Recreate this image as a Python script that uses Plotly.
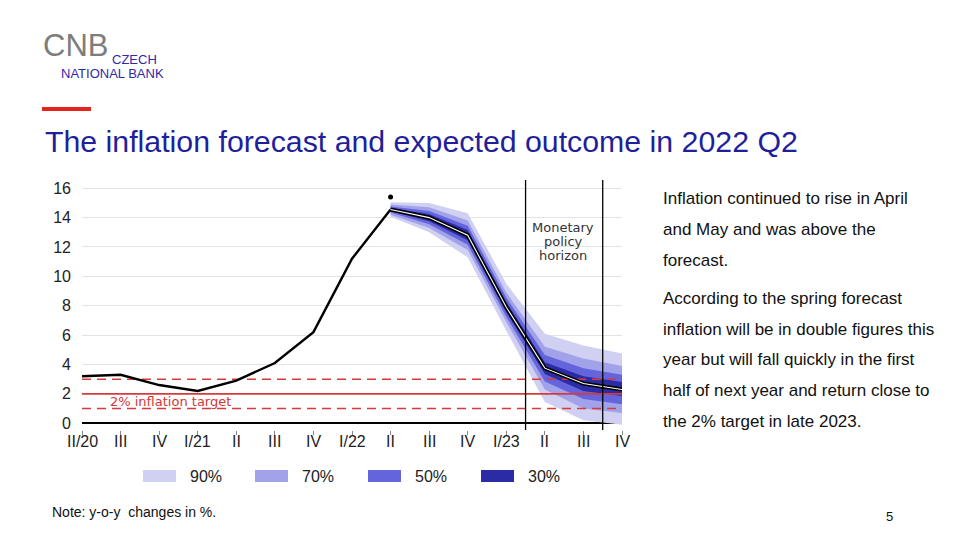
import plotly.graph_objects as go

# ---------------- data ----------------
quarters = ["II/20", "III", "IV", "I/21", "II", "III", "IV", "I/22",
            "II", "III", "IV", "I/23", "II", "III", "IV"]
hist_idx = [0, 1, 2, 3, 4, 5, 6, 7, 8]
hist_vals = [3.2, 3.3, 2.6, 2.2, 2.9, 4.1, 6.2, 11.2, 14.55]

fc_idx = [8, 9, 10, 11, 12, 13, 14]
fc_vals = [14.55, 14.0, 12.8, 7.9, 3.75, 2.7, 2.3]

band90_up = [15.05, 15.0, 14.3, 9.5, 6.1, 5.3, 4.75]
band90_lo = [14.05, 13.0, 11.3, 6.3, 1.45, 0.2, -0.1]
band70_up = [14.9, 14.7, 13.8, 8.9, 5.2, 4.4, 3.9]
band70_lo = [14.2, 13.3, 11.8, 6.9, 2.3, 1.0, 0.7]
band50_up = [14.75, 14.45, 13.45, 8.55, 4.65, 3.75, 3.3]
band50_lo = [14.35, 13.55, 12.15, 7.25, 2.85, 1.65, 1.3]
band30_up = [14.65, 14.25, 13.15, 8.25, 4.15, 3.2, 2.8]
band30_lo = [14.45, 13.75, 12.45, 7.55, 3.35, 2.2, 1.85]

outcome_idx = [8]
outcome_val = [15.4]

target = 2.0
target_band = [1.0, 3.0]
horizon_lines = [11.5, 13.5]

band_names = ["90%", "70%", "50%", "30%"]
band_colors = ["#d0d0f2", "#a2a2ea", "#6464dc", "#2b2ba6"]
bands = [(band90_up, band90_lo), (band70_up, band70_lo),
         (band50_up, band50_lo), (band30_up, band30_lo)]

y_ticks = [0, 2, 4, 6, 8, 10, 12, 14, 16]

text_lines = [
    "Inflation continued to rise in April",
    "and May and was above the",
    "forecast.",
    "According to the spring forecast",
    "inflation will be in double figures this",
    "year but will fall quickly in the first",
    "half of next year and return close to",
    "the 2% target in late 2023.",
]
text_line_y = [198, 229, 260, 298, 329, 359, 390, 421]

# ---------------- layout geometry (screen pixels) ----------------
OFF = 8                      # page body margin
W, H = 960 - OFF, 537 - OFF  # figure size
L, R, T, B = 82, 622, 180, 430   # plot area on screen


def px(x):
    return (x - L) / (R - L)


def py(y):
    return (B - y) / (B - T)


ARIAL = "Liberation Sans, Arial, sans-serif"
DEJAVU = "DejaVu Sans, sans-serif"

fig = go.Figure()

# fan bands
for (up, lo), col, name in zip(bands, band_colors, band_names):
    fig.add_trace(go.Scatter(
        x=fc_idx + fc_idx[::-1], y=up + lo[::-1], fill="toself",
        fillcolor=col, line=dict(width=0), mode="lines", name=name,
        hoverinfo="skip", showlegend=False))

# target lines
red = "#d83a3a"
fig.add_trace(go.Scatter(x=[0, 14], y=[target, target], mode="lines",
                         line=dict(color=red, width=1.6), showlegend=False))
for v in target_band:
    fig.add_trace(go.Scatter(x=[0, 14], y=[v, v], mode="lines",
                             line=dict(color=red, width=1.4, dash="9px,6px"),
                             showlegend=False))

# history line
fig.add_trace(go.Scatter(x=hist_idx, y=hist_vals, mode="lines",
                         line=dict(color="black", width=2.4), showlegend=False))
# forecast line (black with white core)
fig.add_trace(go.Scatter(x=fc_idx, y=fc_vals, mode="lines",
                         line=dict(color="black", width=4.2), showlegend=False))
fig.add_trace(go.Scatter(x=fc_idx, y=fc_vals, mode="lines",
                         line=dict(color="white", width=1.1), showlegend=False))
# actual outcome
fig.add_trace(go.Scatter(x=outcome_idx, y=outcome_val, mode="markers",
                         marker=dict(color="black", size=5), showlegend=False))

shapes = []
for xv in horizon_lines:
    shapes.append(dict(type="line", xref="x", yref="paper", x0=xv, x1=xv,
                       y0=0, y1=1, line=dict(color="black", width=1.3),
                       layer="above"))
# red bar under logo
shapes.append(dict(type="rect", xref="paper", yref="paper",
                   x0=px(42), x1=px(91), y0=py(111), y1=py(107),
                   fillcolor="#e2261f", line=dict(width=0)))
# legend boxes
leg_x = [143, 255, 368, 481]
for lx, col in zip(leg_x, band_colors):
    shapes.append(dict(type="rect", xref="paper", yref="paper",
                       x0=px(lx), x1=px(lx + 33), y0=py(482), y1=py(470),
                       fillcolor=col, line=dict(width=0)))

ann = []
# x tick labels
for i, q in enumerate(quarters):
    ann.append(dict(x=i, y=py(441), xref="x", yref="paper", text=q,
                    showarrow=False, xanchor="center", yanchor="middle",
                    font=dict(family=ARIAL, size=16, color="#222222")))
ann.append(dict(x=0.68, y=1.5, xref="x", yref="y", text="2% inflation target",
                showarrow=False, xanchor="left", yanchor="middle",
                font=dict(family=DEJAVU, size=13, color="#d23636")))
for t, yy in zip(["Monetary", "policy", "horizon"], [227, 241, 255]):
    ann.append(dict(x=12.48, y=py(yy), xref="x", yref="paper", text=t,
                    showarrow=False, xanchor="center", yanchor="middle",
                    font=dict(family=DEJAVU, size=13, color="#333333")))
for name, lx in zip(band_names, leg_x):
    ann.append(dict(x=px(lx + 45), y=py(476), xref="paper", yref="paper",
                    text=name, showarrow=False, xanchor="left",
                    yanchor="middle", font=dict(family=ARIAL, size=16,
                                                color="#222222")))
for t, yy in zip(text_lines, text_line_y):
    ann.append(dict(x=px(661), y=py(yy), xref="paper", yref="paper", text=t,
                    showarrow=False, xanchor="left", yanchor="middle",
                    font=dict(family=ARIAL, size=17, color="#111111")))
# title
ann.append(dict(x=px(43), y=py(141), xref="paper", yref="paper",
                text="The inflation forecast and expected outcome in 2022 Q2",
                showarrow=False, xanchor="left", yanchor="middle",
                font=dict(family=ARIAL, size=30.3, color="#1f1f9c")))
# logo
ann.append(dict(x=px(41), y=py(45), xref="paper", yref="paper",
                text="CNB", showarrow=False, xanchor="left",
                yanchor="middle",
                font=dict(family=ARIAL, size=31, color="#7d7d7d")))
ann.append(dict(x=px(110), y=py(59), xref="paper", yref="paper",
                text="CZECH", showarrow=False, xanchor="left",
                yanchor="middle",
                font=dict(family=ARIAL, size=13, color="#3228a8")))
ann.append(dict(x=px(59), y=py(73.5), xref="paper", yref="paper",
                text="NATIONAL BANK", showarrow=False, xanchor="left",
                yanchor="middle",
                font=dict(family=ARIAL, size=13, color="#3228a8")))
# note & page number
ann.append(dict(x=px(50), y=py(512), xref="paper", yref="paper",
                text="Note: y-o-y  changes in %.", showarrow=False,
                xanchor="left", yanchor="middle",
                font=dict(family=ARIAL, size=14, color="#111111")))
ann.append(dict(x=px(889), y=py(517), xref="paper", yref="paper", text="5",
                showarrow=False, xanchor="center", yanchor="middle",
                font=dict(family=ARIAL, size=13, color="#111111")))

fig.update_layout(
    width=W, height=H,
    margin=dict(l=L - OFF, r=W - (R - OFF), t=T - OFF, b=H - (B - OFF),
                pad=0),
    paper_bgcolor="white", plot_bgcolor="white",
    showlegend=False,
    shapes=shapes, annotations=ann,
    xaxis=dict(range=[0, 14], tickmode="array",
               tickvals=list(range(len(quarters))), showticklabels=False,
               showgrid=False, zeroline=False, showline=False,
               ticks="outside", ticklen=4, tickcolor="#888888"),
    yaxis=dict(range=[-0.46, 16.56], tickmode="array", tickvals=y_ticks,
               showgrid=True, gridcolor="#e3e3e3", gridwidth=1,
               zeroline=True, zerolinecolor="black", zerolinewidth=1.5,
               showline=False, ticks="", ticklabelstandoff=10,
               tickfont=dict(family=ARIAL, size=16, color="#222222")),
)

fig.write_html("out.html")
